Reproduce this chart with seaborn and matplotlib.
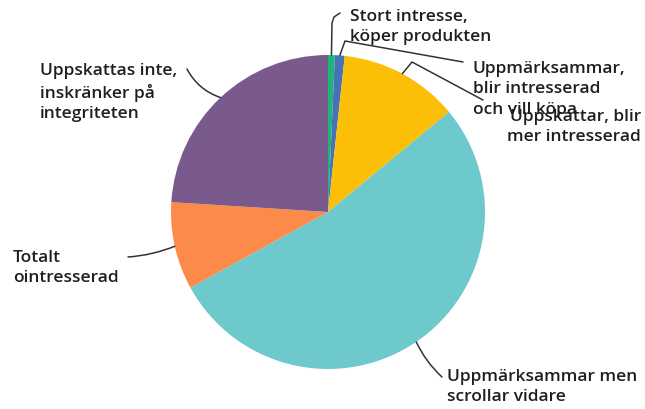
import numpy as np
import matplotlib
matplotlib.use("Agg")
import matplotlib.pyplot as plt
import seaborn as sns

# Survey answers, clockwise from 12 o'clock
categories = [
    "Stort intresse,\nköper produkten",
    "Uppmärksammar,\nblir intresserad\noch vill köpa",
    "Uppskattar, blir\nmer intresserad",
    "Uppmärksammar men\nscrollar vidare",
    "Totalt\nointresserad",
    "Uppskattas inte,\ninskränker på\nintegriteten",
]
shares = [0.7, 1.0, 12.3, 53.0, 9.0, 24.0]
colors = ["#1cb67a", "#4872b8", "#fbbf08", "#6ec9cd", "#fc8a4b", "#7a5a8c"]

sns.set_theme(style="white")
plt.rcParams["font.family"] = ["Open Sans", "DejaVu Sans"]
palette = sns.color_palette(colors)

W, H, DPI = 645, 410, 100
CX, CY, R = 328, 213, 157  # pie centre and radius in pixels

fig = plt.figure(figsize=(W / DPI, H / DPI), dpi=DPI)
ax = fig.add_axes([0, 0, 1, 1])

wedges, _ = ax.pie(shares, colors=palette, startangle=90, counterclock=False,
                   radius=1.0, wedgeprops=dict(linewidth=0))
ax.set_xlim(-CX / R, (W - CX) / R)
ax.set_ylim(-(H - CY) / R, CY / R)
ax.set_aspect("equal", adjustable="datalim")
ax.axis("off")


def px(x, y):
    """Pixel position (from top-left) to data coordinates."""
    return np.array([(x - CX) / R, (CY - y) / R])


def rim(i, r=1.0):
    """Point on the outer rim at the middle of wedge i."""
    w = wedges[i]
    ang = np.deg2rad(0.5 * (w.theta1 + w.theta2))
    return np.array([r * np.cos(ang), r * np.sin(ang)])


text_style = dict(fontsize=12.5, fontweight="semibold", color="#1f1f1f",
                  linespacing=1.36)
line_kw = dict(color="#333333", lw=1.1, solid_capstyle="round",
               solid_joinstyle="round", clip_on=False)

# text anchor (px) and alignment for each label
placements = [
    ((350, 9), "left"),
    ((473, 61), "left"),
    ((641, 109), "right"),
    ((447, 369), "left"),
    ((13, 250), "left"),
    ((40, 63), "left"),
]

for label, (anchor, ha) in zip(categories, placements):
    ax.text(*px(*anchor), label, ha=ha, va="top", **text_style)


def leader(start, *points):
    pts = np.vstack([start] + [px(*p) for p in points])
    ax.plot(pts[:, 0], pts[:, 1], **line_kw)


def curved(start, end_px, rad):
    ax.annotate("", xy=px(*end_px), xytext=start,
                arrowprops=dict(arrowstyle="-", color="#333333", lw=1.1,
                                connectionstyle=f"arc3,rad={rad}",
                                shrinkA=0, shrinkB=0),
                annotation_clip=False)


# stort intresse: straight up from the green sliver, hooking right
leader(rim(0), (332, 24), (334, 18), (340, 14))
# blir intresserad: up from the blue sliver, then across to its label
leader(rim(1), (345, 42), (463, 63))
# uppskattar: from the yellow wedge's rim
leader(rim(2), (412, 63), (483, 101))
# scrollar vidare
curved(rim(3), (442, 378), 0.1)
# totalt ointresserad
curved(rim(4), (128, 258), -0.08)
# uppskattas inte
curved(rim(5), (187, 70), -0.2)

fig.savefig("out.png", dpi=DPI, facecolor="white")
